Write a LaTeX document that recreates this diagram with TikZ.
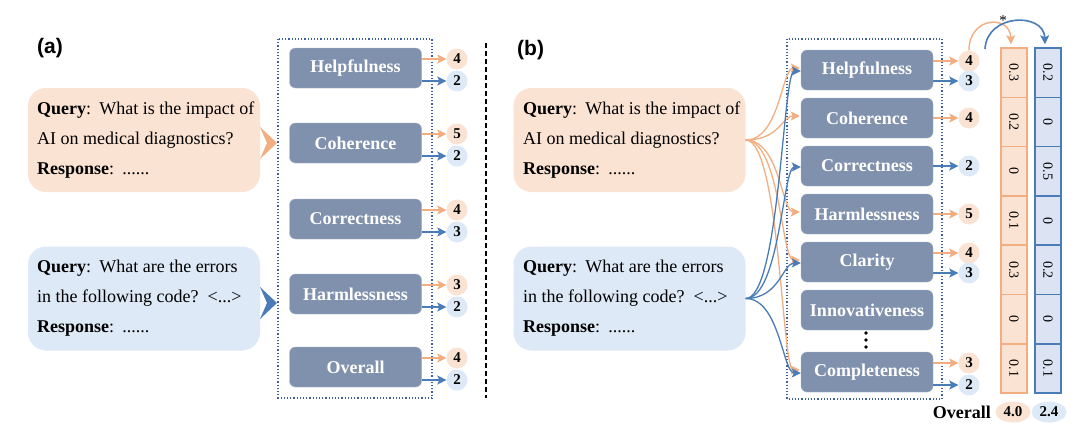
\documentclass[tikz,border=0pt]{standalone}
\usepackage{fontspec}
\usepackage{graphicx}
\setmainfont{Liberation Serif}
\newfontfamily\labfont{Liberation Sans}
\usetikzlibrary{arrows.meta,calc,shapes.geometric}
\definecolor{peach}{HTML}{FBE3D3}
\definecolor{orng}{HTML}{F2AE80}
\definecolor{lblue}{HTML}{DDE9F6}
\definecolor{dblue}{HTML}{4A7DB8}
\definecolor{slate}{HTML}{8091AE}
\definecolor{frameblue}{HTML}{3B5FA0}
\definecolor{colblue}{HTML}{DCE3F3}
\begin{document}
\begin{tikzpicture}[x=1pt,y=-1pt,
  catbox/.style={draw=slate!70!white, fill=slate, rounded corners=6pt, minimum width=132pt, minimum height=40pt, inner sep=0pt, text=white, font=\fontsize{18}{20}\selectfont\bfseries},
  qbox/.style={rounded corners=18pt, minimum width=232pt, minimum height=104pt, inner sep=0pt},
  qtext/.style={anchor=west, font=\fontsize{18}{20}\selectfont, inner sep=0pt},
  oscore/.style={circle, fill=peach, minimum size=21pt, inner sep=0pt, font=\fontsize{15}{16}\selectfont\bfseries},
  bscore/.style={circle, fill=lblue, minimum size=21pt, inner sep=0pt, font=\fontsize{15}{16}\selectfont\bfseries},
  oarr/.style={draw=orng, line width=1.4pt, -{Stealth[length=9pt,width=9pt,inset=2pt]}},
  barr/.style={draw=dblue, line width=1.4pt, -{Stealth[length=9pt,width=9pt,inset=2pt]}},
  fanarr/.style={line width=1.3pt, -{Stealth[length=9pt,width=9pt,inset=2pt]}},
  frame/.style={draw=frameblue, dotted, line width=1.2pt},
  panel/.style={font=\labfont\fontsize{21}{24}\selectfont\bfseries, inner sep=0pt, anchor=west},
  ocell/.style={draw=orng, fill=peach, line width=1.5pt, minimum width=26pt, minimum height=49.3pt, inner sep=0pt, font=\fontsize{14}{15}\selectfont},
  bcell/.style={draw=dblue, fill=colblue, line width=1.5pt, minimum width=26pt, minimum height=49.3pt, inner sep=0pt, font=\fontsize{14}{15}\selectfont},
  oval/.style={ellipse, minimum width=35pt, minimum height=21pt, inner sep=0pt, font=\fontsize{15}{16}\selectfont\bfseries},
]
\fill[white] (0,0) rectangle (1080,434);
\useasboundingbox (0,0) rectangle (1080,434);

% ================= (a) =================
\node[panel] (pa) at (37,48) {(a)};

\node[qbox, fill=peach] (qa1) at (144,140) {};
\node[qtext] (qa1l1) at (37,110) {\textbf{Query}:\hspace{0.45em}What is the impact of};
\node[qtext] (qa1l2) at (37,140) {AI on medical diagnostics?};
\node[qtext] (qa1l3) at (37,171) {\textbf{Response}:\hspace{0.45em}......};
\fill[orng] (260,127) -- (277,143) -- (260,159) -- (267,143) -- cycle;

\node[qbox, fill=lblue] (qa2) at (144,298.5) {};
\node[qtext] (qa2l1) at (37,268) {\textbf{Query}:\hspace{0.45em}What are the errors};
\node[qtext] (qa2l2) at (37,298) {in the following code?\hspace{0.5em}<...>};
\node[qtext] (qa2l3) at (37,329) {\textbf{Response}:\hspace{0.45em}......};
\fill[dblue] (260,287) -- (277,303) -- (260,319) -- (267,303) -- cycle;

\draw[frame] (278,39) rectangle (432,398);

\foreach \nm/\yy/\txt/\os/\bs in {ha/68/Helpfulness/4/2, ca/143/Coherence/5/2, ra/219/Correctness/4/3, hma/294/Harmlessness/3/2, ova/367/Overall/4/2}{
  \node[catbox] (\nm) at (355.5,\yy) {\txt};
  \node[oscore] (\nm o) at (457,\yy-9) {\os};
  \node[bscore] (\nm b) at (457,\yy+13) {\bs};
  \draw[oarr] (\nm.east |- \nm o.west) -- (\nm o.west);
  \draw[barr] (\nm.east |- \nm b.west) -- (\nm b.west);
}

\draw[line width=1.4pt, dash pattern=on 5pt off 3pt] (486,43) -- (486,398);

% ================= (b) =================
\node[panel] (pb) at (517,50) {(b)};

\node[qbox, fill=peach] (qb1) at (629.5,140) {};
\node[qtext] (qb1l1) at (523,110) {\textbf{Query}:\hspace{0.45em}What is the impact of};
\node[qtext] (qb1l2) at (523,140) {AI on medical diagnostics?};
\node[qtext] (qb1l3) at (523,171) {\textbf{Response}:\hspace{0.45em}......};

\node[qbox, fill=lblue] (qb2) at (629.5,298.5) {};
\node[qtext] (qb2l1) at (523,268) {\textbf{Query}:\hspace{0.45em}What are the errors};
\node[qtext] (qb2l2) at (523,298) {in the following code?\hspace{0.5em}<...>};
\node[qtext] (qb2l3) at (523,329) {\textbf{Response}:\hspace{0.45em}......};

\draw[frame] (787,39) rectangle (942,399);

\node[catbox] (hb) at (867,70) {Helpfulness};
\node[catbox] (cb) at (867,118) {Coherence};
\node[catbox] (rb) at (867,166) {Correctness};
\node[catbox] (hmb) at (867,214) {Harmlessness};
\node[catbox] (clb) at (867,262) {Clarity};
\node[catbox] (inb) at (867,310) {Innovativeness};
\node[catbox] (cpb) at (867,372) {Completeness};
\foreach \k in {333,340,347} \fill (866,\k) circle (1.9);

% fan connectors
\foreach \t in {hb,cb,hmb,clb,cpb}
  \draw[fanarr, draw=orng] (qb1.east) .. controls +(34,0) and +(-18,0) .. ($(\t.west)+(-1,-2)$);
\foreach \t in {hb,rb,clb,cpb}
  \draw[fanarr, draw=dblue] (qb2.east) .. controls +(34,0) and +(-18,0) .. ($(\t.west)+(0,1)$);

% scores (b)
\node[oscore] (hbo) at (969,61) {4};
\node[bscore] (hbb) at (969,81) {3};
\node[oscore] (cbo) at (969,118) {4};
\node[bscore] (rbb) at (969,166) {2};
\node[oscore] (hmbo) at (969,214) {5};
\node[oscore] (clbo) at (969,253) {4};
\node[bscore] (clbb) at (969,273) {3};
\node[oscore] (cpbo) at (969,363) {3};
\node[bscore] (cpbb) at (969,385) {2};
\foreach \b/\s/\st in {hb/hbo/oarr, hb/hbb/barr, cb/cbo/oarr, rb/rbb/barr, hmb/hmbo/oarr, clb/clbo/oarr, clb/clbb/barr, cpb/cpbo/oarr, cpb/cpbb/barr}
  \draw[\st] (\b.east |- \s.west) -- (\s.west);

% weight columns
\foreach \v [count=\i from 0] in {0.3,0.2,0,0.1,0.3,0,0.1}
  \node[ocell] (oc\i) at (1014,72.65+49.3*\i) {\rotatebox{-90}{\v}};
\foreach \v [count=\i from 0] in {0.2,0,0.5,0,0.2,0,0.1}
  \node[bcell] (bc\i) at (1048,72.65+49.3*\i) {\rotatebox{-90}{\v}};

\coordinate (bstart) at (985,49);
\draw[oarr] (hbo.north) .. controls +(0,-34) and +(-1,-30) .. ($(oc0.north)+(-3,-3)$);
\draw[barr, line width=1.6pt] (bstart) .. controls +(2,-36) and +(-1,-32) .. ($(bc0.north)+(-3,-3)$);
\node[font=\fontsize{15}{16}\selectfont] (star) at (1003,21) {*};

% overall
\node[anchor=east, inner sep=0pt, font=\fontsize{18}{20}\selectfont\bfseries] (ovl) at (991,412) {Overall};
\node[oval, fill=peach] (ovo) at (1013,412) {4.0};
\node[oval, fill=lblue] (ovb) at (1049,412) {2.4};
\end{tikzpicture}
\end{document}
